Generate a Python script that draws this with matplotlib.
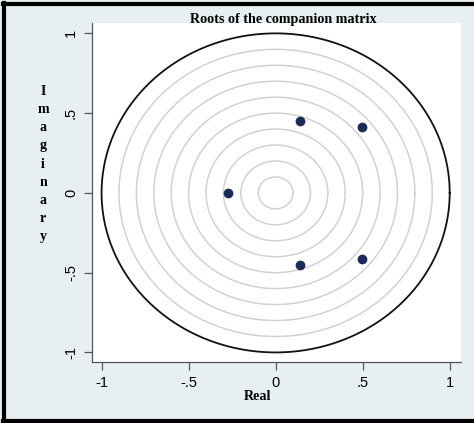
import matplotlib.pyplot as plt
import numpy as np
from matplotlib.lines import Line2D

# Raíces de la matriz compañera (parte real, parte imaginaria)
real = [0.14, 0.14, 0.497, 0.497, -0.275]
imag = [0.452, -0.452, 0.412, -0.412, 0.0]

ticks = [-1, -0.5, 0, 0.5, 1]
tick_labels = ['-1', '-.5', '0', '.5', '1']
grid_radii = [0.1, 0.2, 0.3, 0.4, 0.5, 0.6, 0.7, 0.8, 0.9]

bg = '#e8eff2'
fig = plt.figure(figsize=(4.74, 4.23), dpi=100, facecolor=bg)
ax = fig.add_axes([92 / 474, 61 / 423, 369 / 474, 339 / 423])
ax.set_facecolor('white')

t = np.linspace(0, 2 * np.pi, 400)
for r in grid_radii:
    ax.plot(r * np.cos(t), r * np.sin(t), color='#d2d2d2', linewidth=1.1, zorder=1)
ax.plot(np.cos(t), np.sin(t), color='#111111', linewidth=1.3, zorder=2)

ax.plot(real, imag, 'o', color='#1b2a57', markersize=6, zorder=3)

ax.set_xlim(-1.055, 1.065)
ax.set_ylim(-1.06, 1.065)
ax.set_xticks(ticks)
ax.set_xticklabels(tick_labels, fontname='Liberation Sans', fontsize=10.5)
ax.set_yticks(ticks)
ax.set_yticklabels(tick_labels, fontname='Liberation Sans', fontsize=10.5,
                   rotation=90, va='center')
ax.tick_params(direction='out', length=6, color='#555555', width=0.9, pad=4)
for s in ['top', 'right']:
    ax.spines[s].set_visible(False)
for s in ['left', 'bottom']:
    ax.spines[s].set_color('#555555')
    ax.spines[s].set_linewidth(0.9)

# Títulos en serif negrita, estilo Stata escaneado
fig.text(283 / 474, 1 - 20 / 423, 'Roots of the companion matrix', ha='center', va='center',
         fontname='Liberation Serif', fontweight='bold', fontsize=10.2)
fig.text(258 / 474, 1 - 396 / 423, 'Real', ha='center', va='center',
         fontname='Liberation Serif', fontweight='bold', fontsize=10.2)
fig.text(43 / 474, 1 - 164 / 423, '\n'.join('Imaginary'), ha='center', va='center',
         fontname='Liberation Serif', fontweight='bold', fontsize=10, linespacing=1.52)

# Marco negro exterior
fig.add_artist(Line2D([4 / 474, 4 / 474], [2 / 423, 1 - 3 / 423], color='black', linewidth=3))
fig.add_artist(Line2D([3 / 474, 1], [1 - 4 / 423, 1 - 4 / 423], color='black', linewidth=3))
fig.add_artist(Line2D([3 / 474, 1], [2.5 / 423, 2.5 / 423], color='black', linewidth=3))

fig.savefig('out.png', dpi=100, facecolor=bg)
